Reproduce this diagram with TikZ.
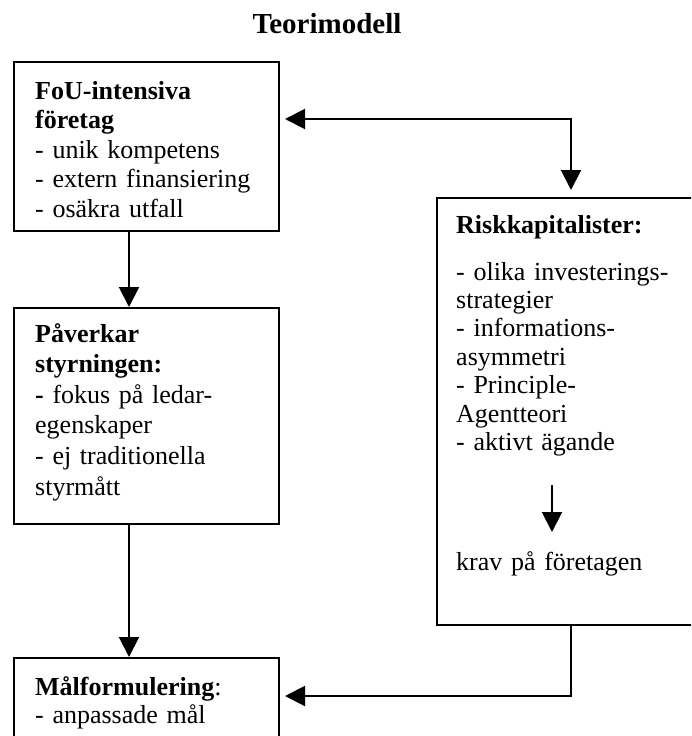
\documentclass[tikz,border=0pt]{standalone}
\usepackage{fontspec}
\setmainfont{Liberation Serif}
\usetikzlibrary{arrows.meta}
\begin{document}
\begin{tikzpicture}[x=1pt,y=-1pt,
  boxstyle/.style={draw, line width=2pt, anchor=north west, inner sep=0pt, minimum width=265pt},
  txt/.style={anchor=base west, inner sep=0pt, align=left, text width=#1, font=\fontsize{26}{29.5}\selectfont},
  txt/.default=240pt,
  arr/.style={line width=2pt, -{Triangle[length=20pt,width=20pt]}},
  darr/.style={line width=2pt, {Triangle[length=20pt,width=20pt]}-{Triangle[length=20pt,width=20pt]}},
  ]
\useasboundingbox (0,0) rectangle (691,736);
\clip (0,0) rectangle (691,736);

% title
\node[font=\bfseries\fontsize{29}{34}\selectfont, anchor=base, inner sep=0pt] (title) at (327,33) {Teorimodell};

% boxes
\node[boxstyle, minimum height=169pt] (b1) at (13,61) {};
\node[boxstyle, minimum height=216pt] (b2) at (13,307) {};
\node[boxstyle, minimum width=320pt, minimum height=427pt] (b3) at (436,197) {};
\node[boxstyle, minimum height=120pt] (b4) at (13,657) {};

% texts
\node[txt] (t1) at (35,99) {\textbf{FoU-intensiva}\\\textbf{företag}\\- unik kompetens\\- extern finansiering\\- osäkra utfall};
\node[txt, font=\fontsize{26}{30.6}\selectfont] (t2) at (35,342) {\textbf{Påverkar}\\\textbf{styrningen:}\\\textbf{-} fokus på ledar-\\egenskaper\\- ej traditionella\\styrmått};
\node[txt] (t3a) at (456,233) {\textbf{Riskkapitalister:}};
\node[txt, font=\fontsize{26}{28.4}\selectfont] (t3b) at (456,280) {\makebox[232pt][s]{- olika investerings-}\\strategier\\- informations-\\asymmetri\\- Principle-\\Agentteori\\- aktivt ägande};
\node[txt] (t3c) at (456,570) {krav på företagen};
\node[txt, font=\fontsize{26}{28}\selectfont] (t4) at (35,695) {\textbf{Målformulering}:\\- anpassade mål};

% connector helpers
\coordinate (cl) at (129,0);
\coordinate (t) at (571,119);
\coordinate (m) at (571,696);
\coordinate (ia) at (552,485);
\coordinate (ib) at (552,532);

% connectors
\draw[arr] (b1.south -| cl) -- (b2.north -| cl);
\draw[arr] (b2.south -| cl) -- (b4.north -| cl);
\draw[darr, shorten <=5pt, shorten >=7pt] (b1.east |- t) -- (t) -- (t |- b3.north);
\draw[arr, shorten >=5pt] (b3.south -| m) -- (m) -- (m -| b4.east);
\draw[arr] (ia) -- (ib);
\end{tikzpicture}
\end{document}
